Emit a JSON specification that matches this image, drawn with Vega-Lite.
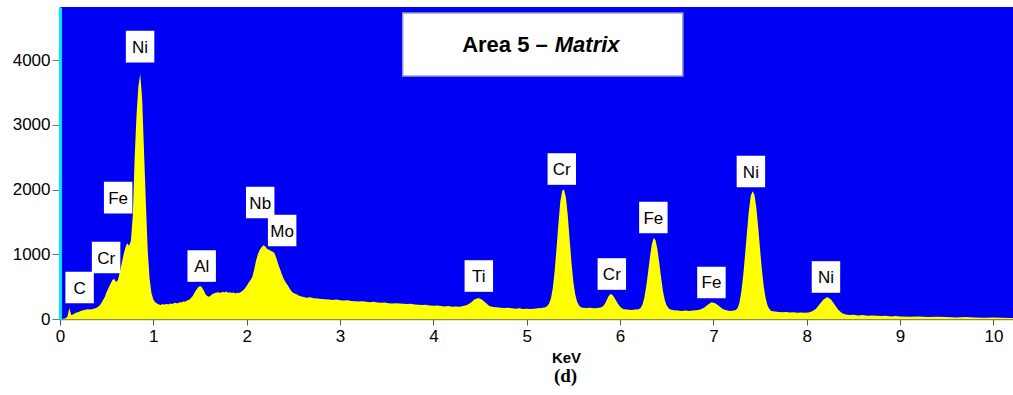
{
  "$schema": "https://vega.github.io/schema/vega-lite/v6.json",
  "width": 953,
  "height": 312,
  "autosize": "none",
  "padding": {"left": 60, "top": 7, "right": 0, "bottom": 76},
  "background": "#FFFFFF",
  "config": {"view": {"fill": "#0000F5", "stroke": null}},
  "title": {"text": "(d)", "orient": "bottom", "font": "Liberation Serif", "fontSize": 19, "fontWeight": "bold", "color": "#000000", "dx": 29, "offset": 2},
  "datasets": {
    "spec": [
      {"e":0.00,"c":0},{"e":0.02,"c":0},{"e":0.04,"c":5},{"e":0.06,"c":10},{"e":0.08,"c":40},{"e":0.10,"c":170},{"e":0.12,"c":60},{"e":0.14,"c":70},{"e":0.16,"c":90},{"e":0.18,"c":100},
      {"e":0.20,"c":110},{"e":0.22,"c":125},{"e":0.24,"c":130},{"e":0.26,"c":140},{"e":0.28,"c":145},{"e":0.30,"c":150},{"e":0.32,"c":145},{"e":0.34,"c":150},{"e":0.36,"c":160},{"e":0.38,"c":165},
      {"e":0.40,"c":180},{"e":0.42,"c":200},{"e":0.44,"c":240},{"e":0.46,"c":290},{"e":0.48,"c":340},{"e":0.50,"c":420},{"e":0.52,"c":480},{"e":0.54,"c":540},{"e":0.56,"c":600},{"e":0.58,"c":620},
      {"e":0.60,"c":570},{"e":0.62,"c":600},{"e":0.64,"c":720},{"e":0.66,"c":850},{"e":0.68,"c":990},{"e":0.70,"c":1100},{"e":0.72,"c":1170},{"e":0.74,"c":1130},{"e":0.76,"c":1210},{"e":0.78,"c":1600},
      {"e":0.80,"c":2500},{"e":0.82,"c":3150},{"e":0.84,"c":3600},{"e":0.86,"c":3780},{"e":0.88,"c":3400},{"e":0.90,"c":2600},{"e":0.92,"c":1800},{"e":0.94,"c":1050},{"e":0.96,"c":620},{"e":0.98,"c":400},
      {"e":1.00,"c":300},{"e":1.02,"c":260},{"e":1.04,"c":240},{"e":1.06,"c":225},{"e":1.08,"c":215},{"e":1.10,"c":230},{"e":1.12,"c":220},{"e":1.14,"c":235},{"e":1.16,"c":225},{"e":1.18,"c":240},
      {"e":1.20,"c":230},{"e":1.22,"c":245},{"e":1.24,"c":250},{"e":1.26,"c":240},{"e":1.28,"c":260},{"e":1.30,"c":255},{"e":1.32,"c":270},{"e":1.34,"c":265},{"e":1.36,"c":285},{"e":1.38,"c":295},
      {"e":1.40,"c":320},{"e":1.42,"c":350},{"e":1.44,"c":400},{"e":1.46,"c":450},{"e":1.48,"c":490},{"e":1.50,"c":510},{"e":1.52,"c":490},{"e":1.54,"c":440},{"e":1.56,"c":380},{"e":1.58,"c":350},
      {"e":1.60,"c":345},{"e":1.62,"c":370},{"e":1.64,"c":390},{"e":1.66,"c":400},{"e":1.68,"c":410},{"e":1.70,"c":415},{"e":1.72,"c":400},{"e":1.74,"c":420},{"e":1.76,"c":410},{"e":1.78,"c":425},
      {"e":1.80,"c":405},{"e":1.82,"c":415},{"e":1.84,"c":400},{"e":1.86,"c":410},{"e":1.88,"c":395},{"e":1.90,"c":405},{"e":1.92,"c":400},{"e":1.94,"c":420},{"e":1.96,"c":440},{"e":1.98,"c":470},
      {"e":2.00,"c":510},{"e":2.02,"c":560},{"e":2.04,"c":600},{"e":2.06,"c":650},{"e":2.08,"c":760},{"e":2.10,"c":900},{"e":2.12,"c":1000},{"e":2.14,"c":1070},{"e":2.16,"c":1110},{"e":2.18,"c":1140},
      {"e":2.20,"c":1120},{"e":2.22,"c":1080},{"e":2.24,"c":1070},{"e":2.26,"c":1050},{"e":2.28,"c":1040},{"e":2.30,"c":1010},{"e":2.32,"c":930},{"e":2.34,"c":840},{"e":2.36,"c":760},{"e":2.38,"c":680},
      {"e":2.40,"c":610},{"e":2.42,"c":560},{"e":2.44,"c":520},{"e":2.46,"c":470},{"e":2.48,"c":430},{"e":2.50,"c":400},{"e":2.52,"c":390},{"e":2.54,"c":380},{"e":2.56,"c":360},{"e":2.58,"c":350},
      {"e":2.60,"c":345},{"e":2.64,"c":330},{"e":2.68,"c":335},{"e":2.72,"c":320},{"e":2.76,"c":315},{"e":2.80,"c":310},{"e":2.84,"c":305},{"e":2.88,"c":300},{"e":2.92,"c":295},{"e":2.96,"c":300},
      {"e":3.00,"c":290},{"e":3.04,"c":285},{"e":3.08,"c":290},{"e":3.12,"c":280},{"e":3.16,"c":275},{"e":3.20,"c":270},{"e":3.24,"c":275},{"e":3.28,"c":265},{"e":3.32,"c":260},{"e":3.36,"c":265},
      {"e":3.40,"c":255},{"e":3.44,"c":250},{"e":3.48,"c":255},{"e":3.52,"c":245},{"e":3.56,"c":240},{"e":3.60,"c":245},{"e":3.64,"c":240},{"e":3.68,"c":235},{"e":3.72,"c":230},{"e":3.76,"c":235},
      {"e":3.80,"c":225},{"e":3.84,"c":220},{"e":3.88,"c":215},{"e":3.92,"c":220},{"e":3.96,"c":210},{"e":4.00,"c":205},{"e":4.04,"c":210},{"e":4.08,"c":200},{"e":4.12,"c":195},{"e":4.16,"c":200},
      {"e":4.20,"c":190},{"e":4.24,"c":195},{"e":4.28,"c":190},{"e":4.32,"c":200},{"e":4.36,"c":215},{"e":4.40,"c":250},{"e":4.44,"c":300},{"e":4.48,"c":325},{"e":4.52,"c":300},{"e":4.56,"c":250},
      {"e":4.60,"c":200},{"e":4.64,"c":185},{"e":4.68,"c":180},{"e":4.72,"c":175},{"e":4.76,"c":170},{"e":4.80,"c":175},{"e":4.84,"c":165},{"e":4.88,"c":160},{"e":4.92,"c":165},{"e":4.96,"c":155},
      {"e":5.00,"c":160},{"e":5.04,"c":155},{"e":5.08,"c":160},{"e":5.12,"c":165},{"e":5.16,"c":170},{"e":5.20,"c":180},{"e":5.22,"c":200},{"e":5.24,"c":240},{"e":5.26,"c":320},{"e":5.28,"c":480},
      {"e":5.30,"c":750},{"e":5.32,"c":1100},{"e":5.34,"c":1480},{"e":5.36,"c":1810},{"e":5.38,"c":1980},{"e":5.40,"c":2000},{"e":5.42,"c":1880},{"e":5.44,"c":1600},{"e":5.46,"c":1230},{"e":5.48,"c":870},
      {"e":5.50,"c":570},{"e":5.52,"c":380},{"e":5.54,"c":270},{"e":5.56,"c":210},{"e":5.58,"c":180},{"e":5.60,"c":175},{"e":5.64,"c":170},{"e":5.68,"c":175},{"e":5.72,"c":165},{"e":5.76,"c":170},
      {"e":5.80,"c":180},{"e":5.82,"c":200},{"e":5.84,"c":240},{"e":5.86,"c":300},{"e":5.88,"c":360},{"e":5.90,"c":385},{"e":5.92,"c":370},{"e":5.94,"c":330},{"e":5.96,"c":280},{"e":5.98,"c":230},
      {"e":6.00,"c":190},{"e":6.02,"c":165},{"e":6.04,"c":150},{"e":6.08,"c":145},{"e":6.12,"c":140},{"e":6.16,"c":145},{"e":6.20,"c":150},{"e":6.22,"c":170},{"e":6.24,"c":220},{"e":6.26,"c":330},
      {"e":6.28,"c":500},{"e":6.30,"c":720},{"e":6.32,"c":950},{"e":6.34,"c":1150},{"e":6.36,"c":1250},{"e":6.38,"c":1220},{"e":6.40,"c":1080},{"e":6.42,"c":870},{"e":6.44,"c":640},{"e":6.46,"c":430},
      {"e":6.48,"c":290},{"e":6.50,"c":210},{"e":6.52,"c":165},{"e":6.54,"c":145},{"e":6.58,"c":135},{"e":6.62,"c":130},{"e":6.66,"c":125},{"e":6.70,"c":130},{"e":6.74,"c":125},{"e":6.78,"c":130},
      {"e":6.82,"c":135},{"e":6.86,"c":145},{"e":6.90,"c":175},{"e":6.94,"c":220},{"e":6.98,"c":260},{"e":7.02,"c":245},{"e":7.06,"c":200},{"e":7.10,"c":155},{"e":7.14,"c":135},{"e":7.18,"c":125},
      {"e":7.22,"c":130},{"e":7.24,"c":140},{"e":7.26,"c":170},{"e":7.28,"c":260},{"e":7.30,"c":430},{"e":7.32,"c":680},{"e":7.34,"c":1000},{"e":7.36,"c":1340},{"e":7.38,"c":1670},{"e":7.40,"c":1900},
      {"e":7.42,"c":1975},{"e":7.44,"c":1920},{"e":7.46,"c":1720},{"e":7.48,"c":1420},{"e":7.50,"c":1080},{"e":7.52,"c":760},{"e":7.54,"c":500},{"e":7.56,"c":320},{"e":7.58,"c":210},{"e":7.60,"c":155},
      {"e":7.62,"c":125},{"e":7.66,"c":115},{"e":7.70,"c":110},{"e":7.74,"c":105},{"e":7.78,"c":110},{"e":7.82,"c":100},{"e":7.86,"c":105},{"e":7.90,"c":95},{"e":7.94,"c":100},{"e":7.98,"c":95},
      {"e":8.02,"c":100},{"e":8.06,"c":120},{"e":8.10,"c":160},{"e":8.14,"c":230},{"e":8.18,"c":300},{"e":8.22,"c":340},{"e":8.26,"c":300},{"e":8.30,"c":220},{"e":8.34,"c":140},{"e":8.38,"c":90},
      {"e":8.42,"c":70},{"e":8.46,"c":60},{"e":8.50,"c":65},{"e":8.55,"c":55},{"e":8.60,"c":60},{"e":8.65,"c":50},{"e":8.70,"c":55},{"e":8.75,"c":50},{"e":8.80,"c":45},{"e":8.85,"c":50},
      {"e":8.90,"c":40},{"e":8.95,"c":45},{"e":9.00,"c":40},{"e":9.10,"c":35},{"e":9.20,"c":40},{"e":9.30,"c":30},{"e":9.40,"c":35},{"e":9.50,"c":30},{"e":9.60,"c":25},{"e":9.70,"c":30},
      {"e":9.80,"c":25},{"e":9.90,"c":20},{"e":10.00,"c":25},{"e":10.10,"c":20},{"e":10.21,"c":15}
    ],
    "labels": [
      {"e":0.21,"c":486,"t":"C"},
      {"e":0.494,"c":950,"t":"Cr"},
      {"e":0.623,"c":1876,"t":"Fe"},
      {"e":0.858,"c":4208,"t":"Ni"},
      {"e":1.518,"c":818,"t":"Al"},
      {"e":2.145,"c":1799,"t":"Nb"},
      {"e":2.38,"c":1367,"t":"Mo"},
      {"e":4.487,"c":664,"t":"Ti"},
      {"e":5.376,"c":2317,"t":"Cr"},
      {"e":5.912,"c":695,"t":"Cr"},
      {"e":6.357,"c":1568,"t":"Fe"},
      {"e":6.979,"c":564,"t":"Fe"},
      {"e":7.402,"c":2278,"t":"Ni"},
      {"e":8.206,"c":649,"t":"Ni"}
    ],
    "box": [{"e":3.672,"e2":6.673,"c":3753,"c2":4726}],
    "head": [{"e":5.226,"c":4124,"t":"Area 5 –"}],
    "headIt": [{"e":5.301,"c":4124,"t":"Matrix"}]
  },
  "layer": [
    {
      "data": {"name": "spec"},
      "mark": {"type": "area", "color": "#FFFF00", "interpolate": "linear"},
      "encoding": {
        "x": {"field": "e", "type": "quantitative", "title": "KeV",
          "scale": {"domain": [0, 10.21], "nice": false, "zero": false},
          "axis": {"values": [0,1,2,3,4,5,6,7,8,9,10], "format": "d", "title": "KeV", "titleFont": "Liberation Sans", "titleFontWeight": "bold", "titleFontSize": 15, "titleColor": "#000000", "titleX": 506, "titleY": 38, "titleBaseline": "middle", "titleAlign": "center", "labelFont": "Liberation Sans", "labelFontSize": 17, "labelColor": "#000000", "labelPadding": 3, "tickColor": "#555555", "tickSize": 6, "domainColor": "#8a8a5a", "domainWidth": 1.5, "grid": false, "labelFlush": false}},
        "y": {"field": "c", "type": "quantitative", "title": null,
          "scale": {"domain": [0, 4820], "nice": false},
          "axis": {"values": [0,1000,2000,3000,4000], "format": "d", "title": null, "labelFont": "Liberation Sans", "labelFontSize": 17, "labelColor": "#000000", "labelPadding": 2, "tickColor": "#777777", "tickSize": 8, "domainColor": "#00E5FF", "domainWidth": 3, "grid": false}}
      }
    },
    {
      "mark": {"type": "rule", "color": "#00006E", "strokeWidth": 3},
      "encoding": {"y": {"datum": 4820}}
    },
    {
      "data": {"name": "box"},
      "mark": {"type": "rect", "fill": "#FFFFFF", "stroke": "#9a9ac8", "strokeWidth": 1.5},
      "encoding": {
        "x": {"field": "e", "type": "quantitative", "title": "KeV"},
        "x2": {"field": "e2"},
        "y": {"field": "c", "type": "quantitative", "title": null},
        "y2": {"field": "c2"}
      }
    },
    {
      "data": {"name": "head"},
      "mark": {"type": "text", "font": "Liberation Sans", "fontSize": 22, "fontWeight": "bold", "color": "#000000", "align": "right", "baseline": "alphabetic"},
      "encoding": {
        "x": {"field": "e", "type": "quantitative", "title": "KeV"},
        "y": {"field": "c", "type": "quantitative", "title": null},
        "text": {"field": "t"}
      }
    },
    {
      "data": {"name": "headIt"},
      "mark": {"type": "text", "font": "Liberation Sans", "fontSize": 22, "fontWeight": "bold", "fontStyle": "italic", "color": "#000000", "align": "left", "baseline": "alphabetic"},
      "encoding": {
        "x": {"field": "e", "type": "quantitative", "title": "KeV"},
        "y": {"field": "c", "type": "quantitative", "title": null},
        "text": {"field": "t"}
      }
    },
    {
      "data": {"name": "labels"},
      "mark": {"type": "point", "shape": "M-0.9,-1H0.9V1H-0.9Z", "filled": true, "fill": "#FFFFFF", "opacity": 1, "size": 1000, "strokeWidth": 0},
      "encoding": {
        "x": {"field": "e", "type": "quantitative", "title": "KeV"},
        "y": {"field": "c", "type": "quantitative", "title": null}
      }
    },
    {
      "data": {"name": "labels"},
      "mark": {"type": "text", "font": "Liberation Sans", "fontSize": 17, "color": "#000000", "align": "center", "baseline": "middle", "dy": 1},
      "encoding": {
        "x": {"field": "e", "type": "quantitative", "title": "KeV"},
        "y": {"field": "c", "type": "quantitative", "title": null},
        "text": {"field": "t"}
      }
    }
  ]
}
